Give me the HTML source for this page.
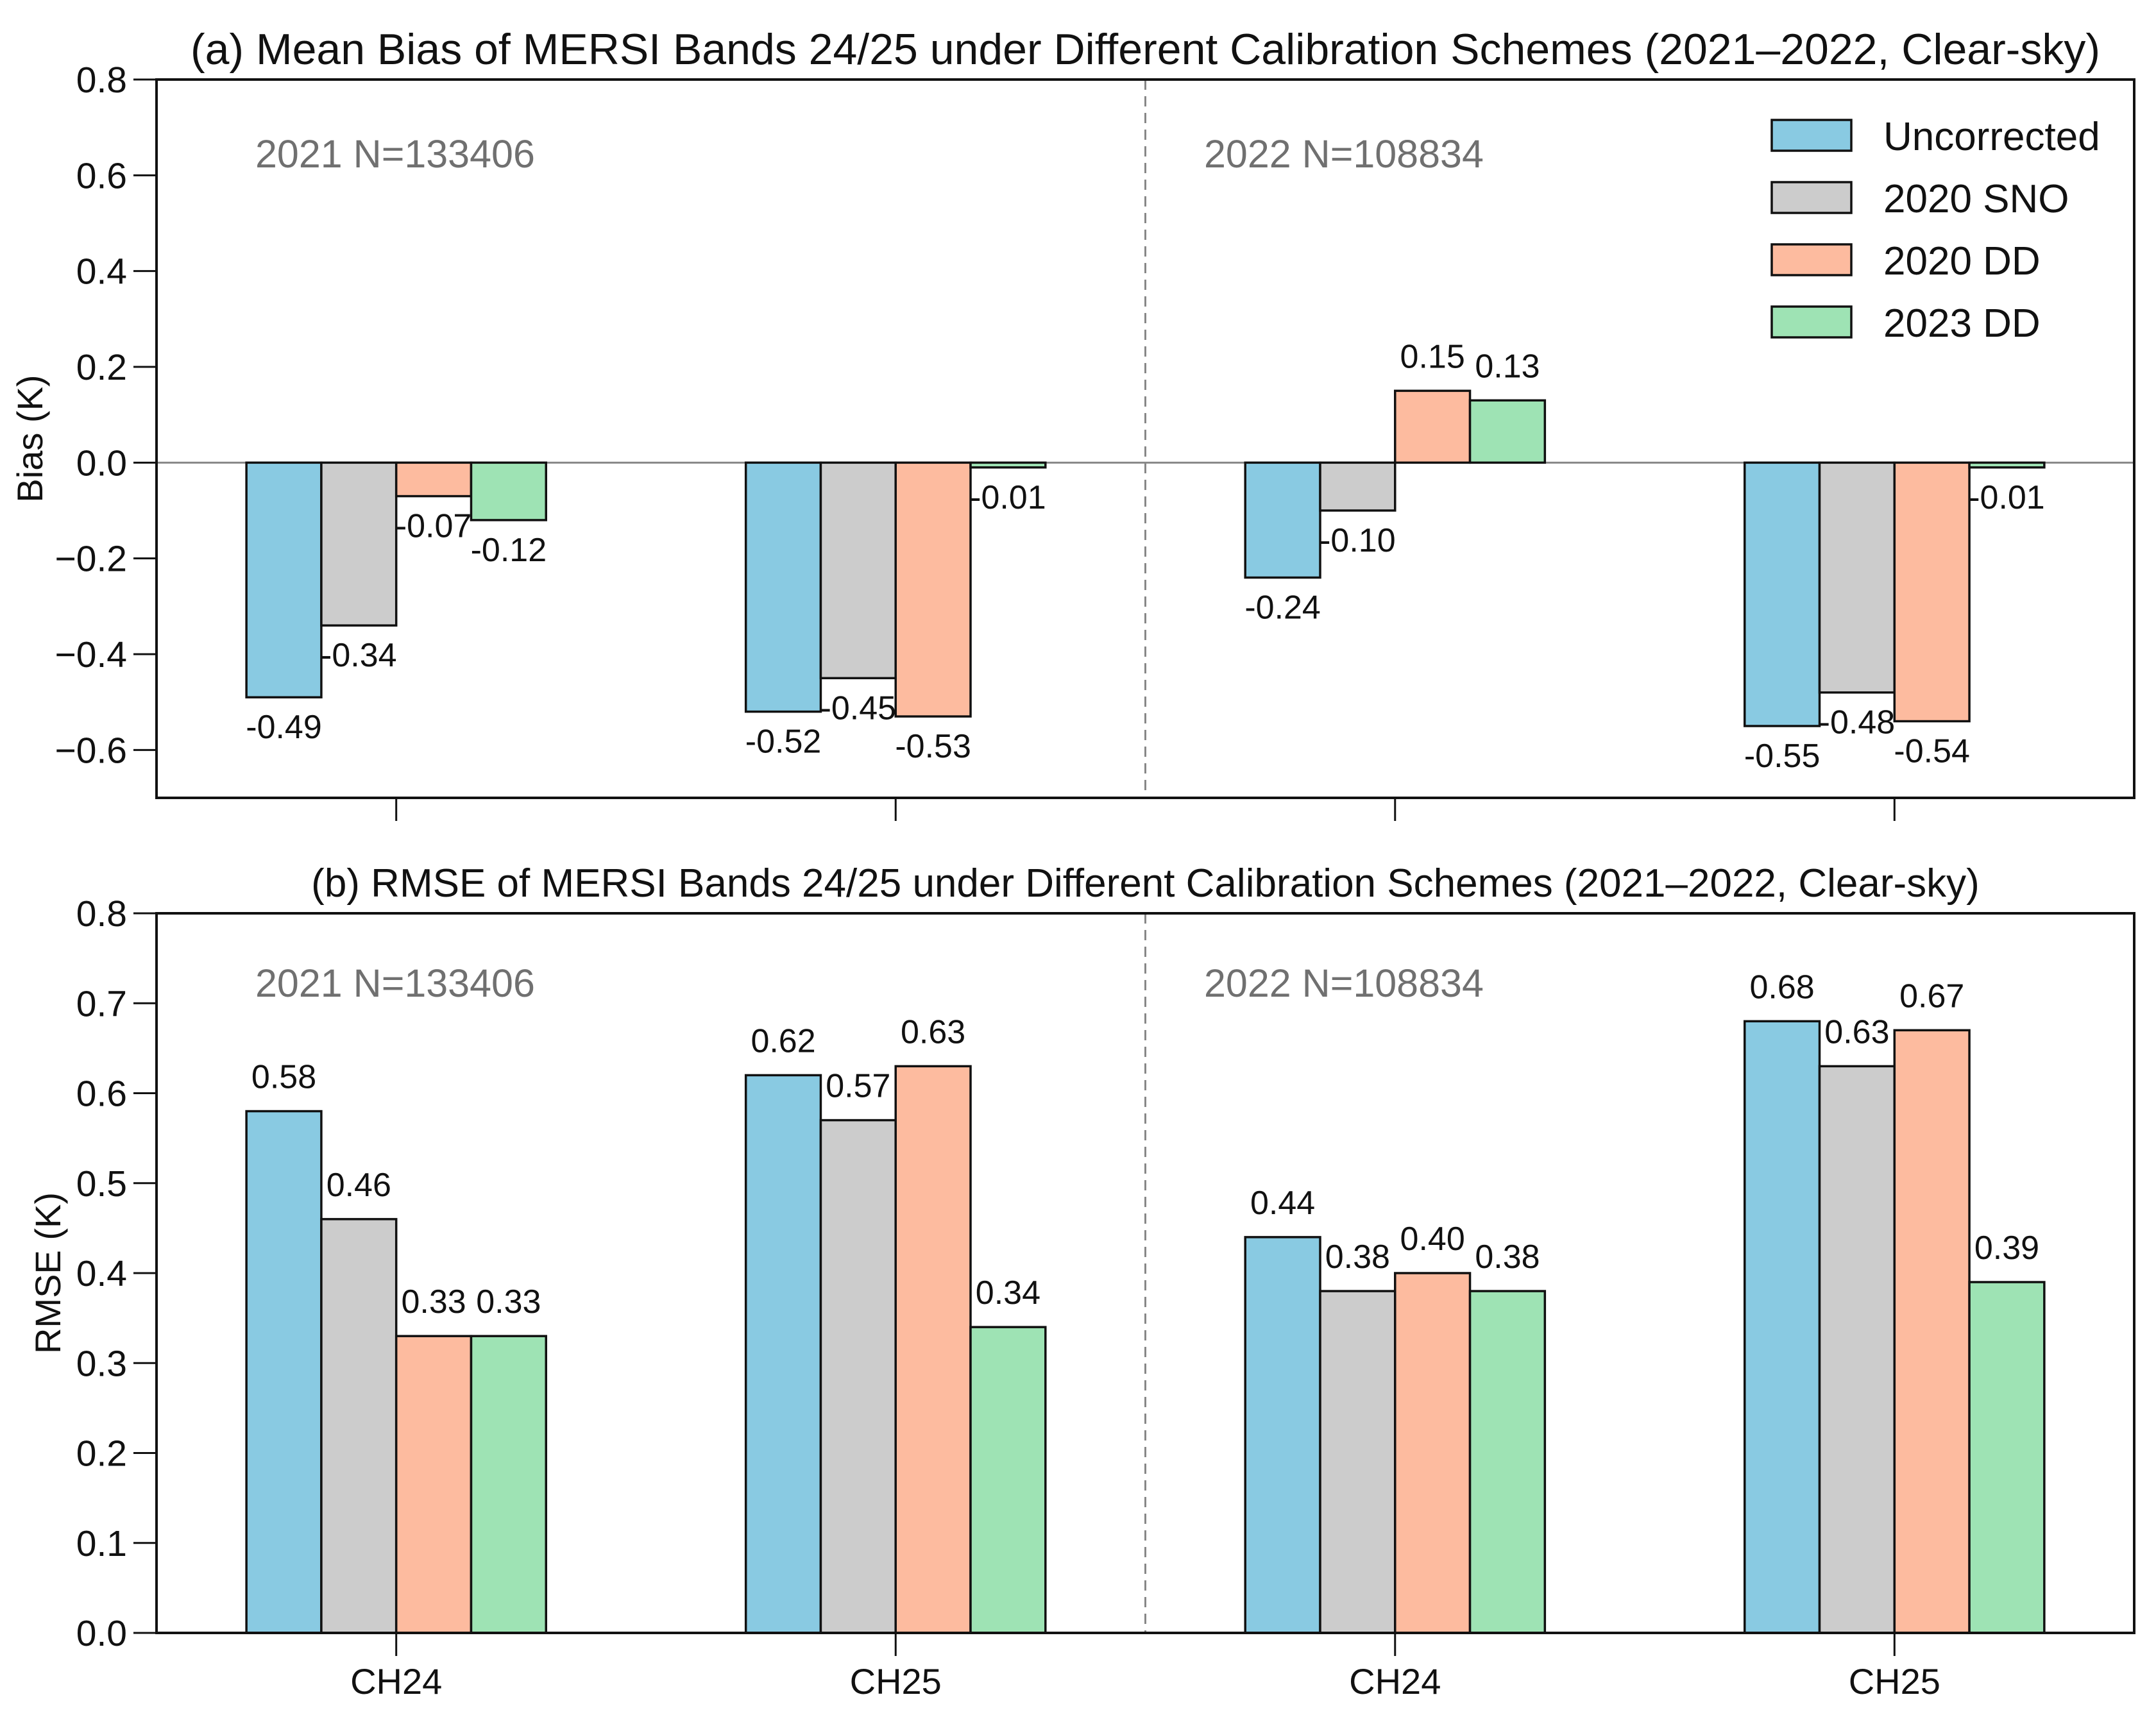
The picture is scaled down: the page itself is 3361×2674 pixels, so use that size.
<!DOCTYPE html>
<html><head><meta charset="utf-8"><style>
html,body{margin:0;padding:0;background:#fff}
svg{display:block;font-family:"Liberation Sans","DejaVu Sans",sans-serif}
</style></head><body>
<svg id="chart" width="3361" height="2674" viewBox="0 0 3361 2674" xmlns="http://www.w3.org/2000/svg"></svg>
<script>
const categories = ["CH24","CH25","CH24","CH25"];
const seriesNames = ["Uncorrected","2020 SNO","2020 DD","2023 DD"];
const seriesColors = ["#89cae2","#cccccc","#fdbb9f","#9ee3b4"];
const biasUncorrected = [-0.49,-0.52,-0.24,-0.55];
const biasSNO2020 = [-0.34,-0.45,-0.10,-0.48];
const biasDD2020 = [-0.07,-0.53,0.15,-0.54];
const biasDD2023 = [-0.12,-0.01,0.13,-0.01];
const rmseUncorrected = [0.58,0.62,0.44,0.68];
const rmseSNO2020 = [0.46,0.57,0.38,0.63];
const rmseDD2020 = [0.33,0.63,0.40,0.67];
const rmseDD2023 = [0.33,0.34,0.38,0.39];
const biasTicks = [-0.6,-0.4,-0.2,0.0,0.2,0.4,0.6,0.8];
const rmseTicks = [0.0,0.1,0.2,0.3,0.4,0.5,0.6,0.7,0.8];
const yearNotes = ["2021 N=133406","2022 N=108834"];

const NS="http://www.w3.org/2000/svg";
const svg=document.getElementById('chart');
function mk(tag,attrs,parent,text){const e=document.createElementNS(NS,tag);for(const k in attrs)e.setAttribute(k,attrs[k]);if(text!==undefined)e.textContent=text;(parent||svg).appendChild(e);return e;}

const L=244,R=3327;
const xs=v=>L+(v+0.48)*(R-L)/(3.96);
const barW=0.15;

function panel(o){
  const g=mk('g',{});
  
  
  const ys=v=>o.top+(o.max-v)*(o.bot-o.top)/(o.max-o.min);
  const t=mk('text',{x:(L+R)/2,y:o.titleY,'font-size':o.titleSize,'text-anchor':'middle',fill:'#111'},g,o.title);
  
  
  const d=mk('line',{x1:xs(1.5),x2:xs(1.5),y1:o.top,y2:o.bot,stroke:'#888','stroke-width':3,'stroke-dasharray':'16,10'},g);
  
  
  if(o.min<0){const z=mk('line',{x1:L,x2:R,y1:ys(0),y2:ys(0),stroke:'#888','stroke-width':3},g);
    
    }
  const unit=(R-L)/3.96;
  o.series.forEach((arr,si)=>{
    arr.forEach((v,ci)=>{
      const bw=barW*unit;
      const bx=xs(ci)+(si-2)*bw;
      const y1=Math.min(ys(v),ys(0)), h=Math.abs(ys(v)-ys(0));
      const r=mk('rect',{x:bx,y:y1,width:bw,height:Math.max(h,1),fill:seriesColors[si],stroke:'#111','stroke-width':3.5},g);
      
      
      const ly=v<0?ys(v)+64:ys(v)-36;
      const lb=mk('text',{x:bx+bw/2,y:ly,'font-size':52,'text-anchor':'middle',fill:'#111'},g,v.toFixed(2));
      
      
    });
  });
  yearNotes.forEach((n,i)=>{
    const tx=mk('text',{x:i===0?398:1877,y:o.top+o.noteOff,'font-size':61,fill:'#707070'},g,n);
    
    
  });
  const f=mk('rect',{x:L,y:o.top,width:R-L,height:o.bot-o.top,fill:'none',stroke:'#111','stroke-width':4},g);
  
  
  o.ticks.forEach(v=>{
    mk('line',{x1:L-36,x2:L,y1:ys(v),y2:ys(v),stroke:'#111','stroke-width':3},g);
    const tl=mk('text',{x:198,y:ys(v)+20,'font-size':57,'text-anchor':'end',fill:'#111'},g,(v<0?'\u2212':'')+Math.abs(v).toFixed(1));
    
    
  });
  categories.forEach((c,i)=>{
    mk('line',{x1:xs(i),x2:xs(i),y1:o.bot,y2:o.bot+36,stroke:'#111','stroke-width':3},g);
    if(o.showX){const xl=mk('text',{x:xs(i),y:o.bot+95,'font-size':56,'text-anchor':'middle',fill:'#111'},g,c);
      
      }
  });
  const yl=mk('text',{x:0,y:0,'font-size':56,'text-anchor':'middle',fill:'#111',transform:`translate(${o.ylabX},${(o.top+o.bot)/2}) rotate(-90)`},g,o.ylab);
  
  
}

panel({name:'bias-panel',title:'(a) Mean Bias of MERSI Bands 24/25 under Different Calibration Schemes (2021\u20132022, Clear-sky)',
  titleSize:68,titleY:100,top:124,bot:1244,min:-0.7,max:0.8,ticks:biasTicks,ylab:'Bias (K)',ylabX:66,showX:false,noteOff:137,
  series:[biasUncorrected,biasSNO2020,biasDD2020,biasDD2023]});
panel({name:'rmse-panel',title:'(b) RMSE of MERSI Bands 24/25 under Different Calibration Schemes (2021\u20132022, Clear-sky)',
  titleSize:62,titleY:1398,top:1424,bot:2546,min:0,max:0.8,ticks:rmseTicks,ylab:'RMSE (K)',ylabX:94,showX:true,noteOff:130,
  series:[rmseUncorrected,rmseSNO2020,rmseDD2020,rmseDD2023]});

const lg=mk('g',{});


const legY=[211,308,405,502];
seriesNames.forEach((n,i)=>{
  const p=mk('rect',{x:2762,y:legY[i]-24,width:124,height:48,fill:seriesColors[i],stroke:'#111','stroke-width':3.5},lg);
  
  
  const t=mk('text',{x:2936,y:legY[i]+23,'font-size':62,fill:'#111'},lg,n);
  
  
});
</script>
</body></html>
